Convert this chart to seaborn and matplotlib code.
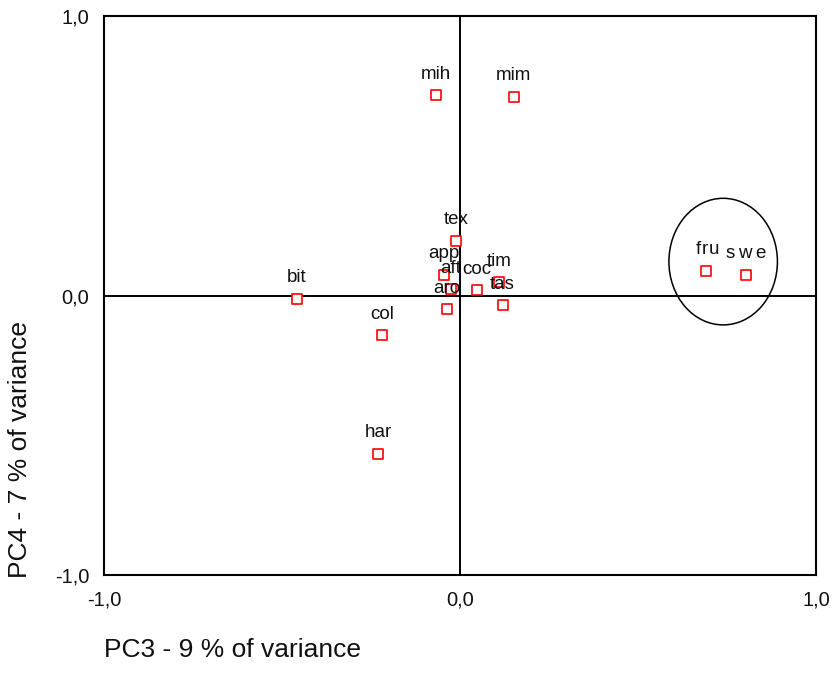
import matplotlib
matplotlib.use("Agg")
import matplotlib.pyplot as plt
from matplotlib.patches import Ellipse
from matplotlib.textpath import TextPath
from matplotlib.font_manager import FontProperties
import seaborn as sns
import pandas as pd

# Attribute loadings on the third and fourth principal components
attributes = ["mih", "mim", "tex", "app", "aft", "coc", "tim", "tas", "aro",
              "bit", "col", "har", "fru", "swe"]
pc3 = [-0.069, 0.151, -0.011, -0.046, -0.026, 0.046, 0.109, 0.119, -0.037,
       -0.460, -0.219, -0.230, 0.692, 0.802]
pc4 = [0.718, 0.713, 0.198, 0.076, 0.024, 0.021, 0.050, -0.033, -0.048,
       -0.010, -0.141, -0.564, 0.091, 0.076]

# Labels drawn with wider letter spacing (extra gap in points)
spaced = {"fru": 0.6, "swe": 2.2}

tick_values = [-1.0, 0.0, 1.0]
tick_labels = ["-1,0", "0,0", "1,0"]

# Grouping ellipse around the sweet/fruity attributes (centre, width, height)
group_center = (0.739, 0.123)
group_size = (0.305, 0.453)

df = pd.DataFrame({"attribute": attributes, "PC3": pc3, "PC4": pc4})

sns.set_theme(style="white")
plt.rcParams["font.family"] = ["Liberation Sans", "DejaVu Sans"]

LABEL_SIZE = 13.5
label_font = FontProperties(family="Liberation Sans", size=LABEL_SIZE)


def char_width(ch):
    # ink width of a single glyph in points, plus a small side bearing
    return TextPath((0, 0), ch, prop=label_font).get_extents().width + 1.0


fig = plt.figure(figsize=(8.32, 6.73), dpi=100)
ax = fig.add_axes([0.1256, 0.1449, 0.8552, 0.8306])

ax.axhline(0, color="black", lw=1.4, zorder=1)
ax.axvline(0, color="black", lw=1.4, zorder=1)

sns.scatterplot(data=df, x="PC3", y="PC4", ax=ax, marker="s", s=42,
                facecolor="white", edgecolor="red", linewidth=1.2, zorder=3)

for name, x, y in zip(df["attribute"], df["PC3"], df["PC4"]):
    if name in spaced:
        gap = spaced[name]
        widths = [char_width(c) for c in name]
        total = sum(widths) + gap * (len(name) - 1)
        pos = -total / 2
        for c, w in zip(name, widths):
            ax.annotate(c, (x, y), xytext=(pos + w / 2, 9),
                        textcoords="offset points", ha="center", va="bottom",
                        fontsize=LABEL_SIZE, color="#111111", zorder=4)
            pos += w + gap
    else:
        ax.annotate(name, (x, y), xytext=(0, 9), textcoords="offset points",
                    ha="center", va="bottom", fontsize=LABEL_SIZE,
                    color="#111111", zorder=4)

ax.add_patch(Ellipse(group_center, group_size[0], group_size[1],
                     fill=False, edgecolor="black", lw=1.1, zorder=2))

ax.set_xlim(-1, 1)
ax.set_ylim(-1, 1)
ax.set_xticks(tick_values)
ax.set_xticklabels(tick_labels)
ax.set_yticks(tick_values)
ax.set_yticklabels(tick_labels)
ax.tick_params(axis="both", which="both", direction="out", length=3,
               width=1.5, color="black", labelsize=14.5, labelcolor="#111111")
ax.tick_params(axis="x", pad=8)
ax.tick_params(axis="y", pad=8)
for sp in ax.spines.values():
    sp.set_visible(True)
    sp.set_color("black")
    sp.set_linewidth(1.5)
ax.set_xlabel("")
ax.set_ylabel("")

fig.text(0.1256, 0.016, "PC3 - 9 % of variance", ha="left", va="bottom",
         fontsize=19, color="#111111")
fig.text(0.010, 0.1405, "PC4 - 7 % of variance", ha="left", va="bottom",
         rotation=90, fontsize=19, color="#111111")

fig.savefig("out.png", dpi=100, facecolor="white")
